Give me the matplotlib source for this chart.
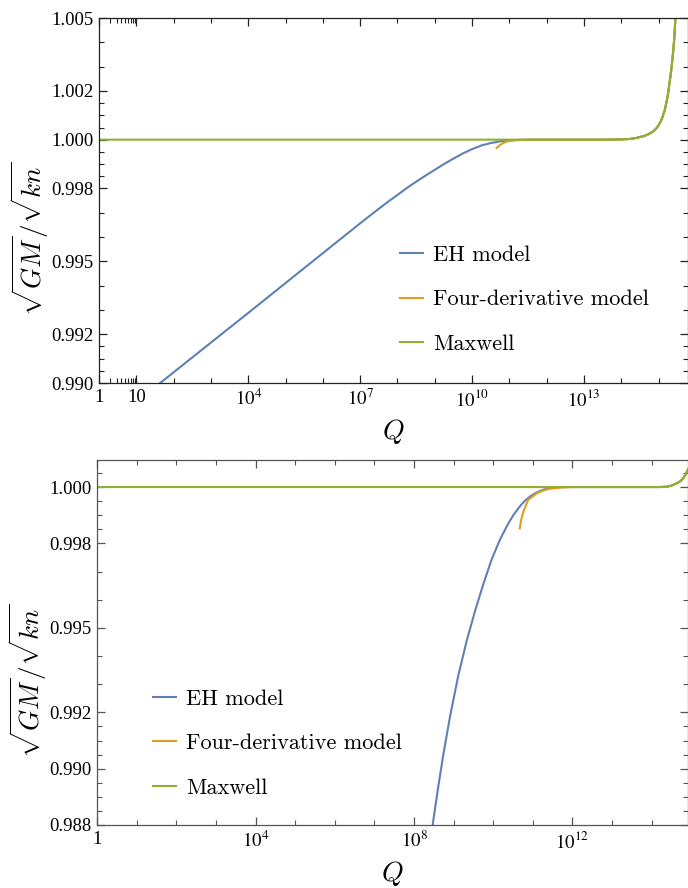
import matplotlib.pyplot as plt
import numpy as np
from matplotlib.ticker import FixedLocator, NullFormatter

plt.rcParams['font.family'] = ['Liberation Serif', 'DejaVu Serif']
plt.rcParams['mathtext.fontset'] = 'stix'

blue = '#5E81B5'
orange = '#E19C24'
green = '#8FB032'
labels = ['EH model', 'Four-derivative model', 'Maxwell']

# --- upper panel (log10 Q, ratio) ---
tail_top_logq = [12.5, 13.5, 14.0, 14.24, 14.4, 14.59, 14.7, 14.86, 14.95, 15.04, 15.1, 15.17,
                 15.22, 15.26, 15.29, 15.32, 15.35, 15.38, 15.42, 15.45, 15.5]
tail_top_val = [1.0, 1.0, 1.00001, 1.00003, 1.00007, 1.00014, 1.0002, 1.00034, 1.00048, 1.00069,
                1.0009, 1.00123, 1.0016, 1.00192, 1.0023, 1.0026, 1.003, 1.00342, 1.00411,
                1.00493, 1.0059]
eh_top_logq = [1.3, 1.64, 4.05, 6.73, 7.0, 7.25, 7.5, 7.75, 8.0, 8.25, 8.5, 8.75, 9.0, 9.25,
               9.5, 9.75, 10.0, 10.25, 10.5, 10.75, 11.0, 11.25, 11.5]
eh_top_val = [0.98959, 0.990, 0.99294, 0.99623, 0.99656, 0.99686, 0.99716, 0.99745, 0.99773,
              0.99801, 0.99827, 0.99852, 0.99876, 0.99900, 0.99922, 0.99943, 0.99961, 0.99976,
              0.99986, 0.99993, 0.99997, 0.99999, 1.0]
fd_top_logq = [10.66, 10.75, 10.85, 10.95, 11.1, 11.3, 11.6]
fd_top_val = [0.99966, 0.99978, 0.99987, 0.99993, 0.99997, 0.99999, 1.0]
mx_top_logq = [0.0, 11.6]
mx_top_val = [1.0, 1.0]

# --- lower panel ---
tail_bot_logq = [12.5, 13.5, 14.2, 14.38, 14.5, 14.63, 14.72, 14.8, 14.86, 14.95]
tail_bot_val = [1.0, 1.0, 1.0, 1.00001, 1.00005, 1.00013, 1.0002, 1.00031, 1.00045, 1.0007]
eh_bot_logq = [8.4, 8.47, 8.6, 8.74, 8.91, 9.12, 9.33, 9.55, 9.75, 9.96, 10.17, 10.3, 10.4,
               10.5, 10.6, 10.7, 10.8, 10.9, 11.0, 11.1, 11.2, 11.3, 11.4, 11.5, 11.6, 11.8, 12.0]
eh_bot_val = [0.98729, 0.988, 0.98925, 0.9905, 0.99186, 0.99332, 0.99454, 0.99564, 0.99655,
              0.99743, 0.99813, 0.99849, 0.99875, 0.99898, 0.99918, 0.99936, 0.99951, 0.99963,
              0.99973, 0.99981, 0.99987, 0.99992, 0.99996, 0.99998, 0.99999, 1.0, 1.0]
fd_bot_logq = [10.67, 10.7, 10.76, 10.88, 11.1, 11.35, 11.68, 12.0]
fd_bot_val = [0.99853, 0.9988, 0.99912, 0.99954, 0.99978, 0.99992, 0.99998, 1.0]
mx_bot_logq = [0.0, 12.0]
mx_bot_val = [1.0, 1.0]


def curve(logq, val, tail_logq, tail_val):
    q = 10.0 ** np.array(list(logq) + list(tail_logq))
    return q, np.array(list(val) + list(tail_val))


def style(ax, xmax, xmajor, xlabels, xminor, ymin, ymax, ymajor, yminor, spine):
    ax.set_xscale('log')
    ax.set_xlim(1, xmax)
    ax.set_ylim(ymin, ymax)
    ax.xaxis.set_major_locator(FixedLocator(xmajor))
    ax.xaxis.set_minor_locator(FixedLocator(xminor))
    ax.set_xticklabels(xlabels)
    ax.xaxis.set_minor_formatter(NullFormatter())
    ax.yaxis.set_major_locator(FixedLocator(ymajor))
    ax.yaxis.set_minor_locator(FixedLocator(yminor))
    ax.set_yticklabels(['%.3f' % v for v in ymajor])
    ax.tick_params(which='both', direction='in', top=True, right=True, color=spine,
                   labelsize=13.5, pad=4)
    ax.tick_params(which='major', length=6, width=0.9)
    ax.tick_params(which='minor', length=3.5, width=0.8)
    for s in ax.spines.values():
        s.set_color(spine)
        s.set_linewidth(0.9)
    ax.set_xlabel(r'$Q$', fontsize=20, math_fontfamily='cm', labelpad=5)
    ax.set_ylabel(r'$\sqrt{GM}/\sqrt{kn}$', fontsize=19.5, math_fontfamily='cm')
    ax.yaxis.set_label_coords(-0.081, 0.395)


fig = plt.figure(figsize=(6.88, 8.88), dpi=100)
ax1 = fig.add_axes([99 / 688, 1 - 383 / 888, 589 / 688, 365 / 888])
ax2 = fig.add_axes([97.3 / 688, 1 - 825 / 888, 590.7 / 688, 365 / 888])

lw = 1.5
q, v = curve(eh_top_logq, eh_top_val, tail_top_logq, tail_top_val)
ax1.plot(q, v, color=blue, lw=lw, label=labels[0])
q, v = curve(fd_top_logq, fd_top_val, tail_top_logq, tail_top_val)
ax1.plot(q, v, color=orange, lw=lw, label=labels[1])
q, v = curve(mx_top_logq, mx_top_val, tail_top_logq, tail_top_val)
ax1.plot(q, v, color=green, lw=lw, label=labels[2])

q, v = curve(eh_bot_logq, eh_bot_val, tail_bot_logq, tail_bot_val)
ax2.plot(q, v, color=blue, lw=lw, label=labels[0])
q, v = curve(fd_bot_logq, fd_bot_val, tail_bot_logq, tail_bot_val)
ax2.plot(q, v, color=orange, lw=lw, label=labels[1])
q, v = curve(mx_bot_logq, mx_bot_val, tail_bot_logq, tail_bot_val)
ax2.plot(q, v, color=green, lw=lw, label=labels[2])

style(ax1, 10 ** 15.79,
      [1, 10, 1e4, 1e7, 1e10, 1e13], ['1', '10', '$10^{4}$', '$10^{7}$', '$10^{10}$', '$10^{13}$'],
      [2, 3, 4, 5, 6, 7, 8, 9, 1e2, 1e3, 1e5, 1e6, 1e8, 1e9, 1e11, 1e12, 1e14, 1e15],
      0.990, 1.005,
      [0.990, 0.992, 0.995, 0.998, 1.000, 1.002, 1.005],
      [0.9905, 0.991, 0.9915, 0.993, 0.994, 0.996, 0.997, 0.9985, 0.999, 0.9995,
       1.0005, 1.001, 1.0015, 1.003, 1.004],
      '#222222')
style(ax2, 10 ** 14.92,
      [1, 1e4, 1e8, 1e12], ['1', '$10^{4}$', '$10^{8}$', '$10^{12}$'],
      [10, 1e2, 1e3, 1e5, 1e6, 1e7, 1e9, 1e10, 1e11, 1e13, 1e14],
      0.988, 1.00096,
      [0.988, 0.990, 0.992, 0.995, 0.998, 1.000],
      [0.9885, 0.989, 0.9895, 0.9905, 0.991, 0.9915, 0.993, 0.994, 0.996, 0.997,
       0.9985, 0.999, 0.9995, 1.0005],
      '#555555')

legend_kw = dict(frameon=False, borderpad=0, borderaxespad=0, handlelength=1.05,
                 handletextpad=0.45, labelspacing=1.12,
                 prop={'family': 'cmr10', 'size': 16})
ax1.legend(loc='upper left', bbox_to_anchor=(0.511, 0.377), **legend_kw)
ax2.legend(loc='upper left', bbox_to_anchor=(0.094, 0.372), **legend_kw)

fig.savefig('out.png', dpi=100)
